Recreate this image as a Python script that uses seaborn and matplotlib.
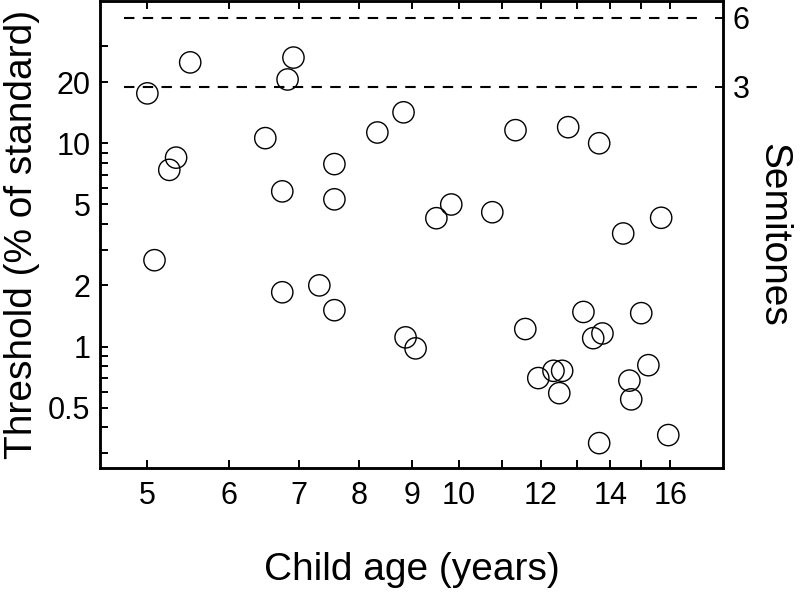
import numpy as np
import pandas as pd
import matplotlib
matplotlib.use("Agg")
import matplotlib.pyplot as plt
import seaborn as sns
from matplotlib.ticker import FixedLocator, NullLocator, NullFormatter

# child age (years) and threshold (% of standard)
age = [5.00, 5.50, 5.33, 5.25, 5.08, 6.50, 6.92, 6.83, 6.75, 7.58,
       7.58, 8.34, 8.84, 6.75, 7.33, 7.58, 8.88, 9.08, 9.51, 9.83,
       10.77, 11.34, 12.75, 13.66, 14.41, 15.68, 11.59, 13.19, 13.48, 13.76,
       15.00, 15.24, 11.93, 12.34, 12.58, 12.50, 14.61, 14.67, 13.66, 15.93]
threshold = [17.6, 25.0, 8.5, 7.4, 2.66, 10.6, 26.4, 20.6, 5.8, 7.9,
             5.3, 11.3, 14.2, 1.85, 2.0, 1.51, 1.11, 0.98, 4.28, 5.0,
             4.58, 11.6, 12.0, 10.0, 3.6, 4.3, 1.22, 1.48, 1.10, 1.16,
             1.46, 0.81, 0.70, 0.76, 0.76, 0.59, 0.68, 0.55, 0.335, 0.367]

x_ticks = [5, 6, 7, 8, 9, 10, 11, 12, 13, 14, 15, 16]
x_ticklabels = ['5', '6', '7', '8', '9', '10', '', '12', '', '14', '', '16']
y_ticks = [0.5, 1, 2, 5, 10, 20]
y_ticklabels = ['0.5', '1', '2', '5', '10', '20']
y_minor = [0.3, 0.4, 0.6, 0.7, 0.8, 0.9, 3, 4, 6, 7, 8, 9, 30]
semitones = [3, 6]

df = pd.DataFrame({'age': age, 'threshold': threshold})
semi_pct = [100 * (2 ** (s / 12) - 1) for s in semitones]

sns.set_style('ticks')
plt.rcParams['font.family'] = ['Liberation Sans', 'DejaVu Sans']
plt.rcParams['text.color'] = 'black'
plt.rcParams['axes.labelcolor'] = 'black'

fig = plt.figure(figsize=(8, 5.92), dpi=100)
ax = fig.add_axes([0.125, 0.209, 0.779, 0.789])

ax.set_xscale('log')
ax.set_yscale('log')
ax.set_xlim(4.5, 18.0)
ax.set_ylim(0.252, 50)

sns.scatterplot(data=df, x='age', y='threshold', ax=ax, s=235,
                facecolors='none', edgecolor='black', linewidth=1.0, zorder=3)

# dashed reference lines at 3 and 6 semitones
ax.hlines(semi_pct, 4.75, 17.0, colors='black', linestyles=(0, (5, 4)),
          linewidth=1.5)

ax.xaxis.set_major_locator(FixedLocator(x_ticks))
ax.set_xticklabels(x_ticklabels)
ax.xaxis.set_minor_locator(NullLocator())
ax.yaxis.set_major_locator(FixedLocator(y_ticks))
ax.set_yticklabels(y_ticklabels)
ax.yaxis.set_minor_locator(FixedLocator(y_minor))
ax.yaxis.set_minor_formatter(NullFormatter())

ax.tick_params(axis='x', which='both', direction='in', top=True, length=6,
               width=1.4, labelsize=22, pad=9, colors='black')
ax.tick_params(axis='y', which='both', direction='in', length=6, width=1.4,
               labelsize=22, pad=7, colors='black')

for sp in ax.spines.values():
    sp.set_linewidth(1.8)
    sp.set_color('black')

ax.set_xlabel('Child age (years)', fontsize=28, labelpad=30, color='black')
ax.set_ylabel('Threshold (% of standard)', fontsize=28, labelpad=6,
              color='black')

ax2 = ax.twinx()
ax2.set_yscale('log')
ax2.set_ylim(ax.get_ylim())
ax2.yaxis.set_major_locator(FixedLocator(semi_pct))
ax2.set_yticklabels([str(s) for s in semitones])
ax2.yaxis.set_minor_locator(NullLocator())
ax2.tick_params(axis='y', direction='in', length=6, width=1.4, labelsize=22,
                pad=7, colors='black')
for sp in ax2.spines.values():
    sp.set_linewidth(1.8)
    sp.set_color('black')
ax2.set_ylabel('Semitones', fontsize=28, rotation=270, labelpad=30,
               color='black')

fig.savefig('out.png', dpi=100)
